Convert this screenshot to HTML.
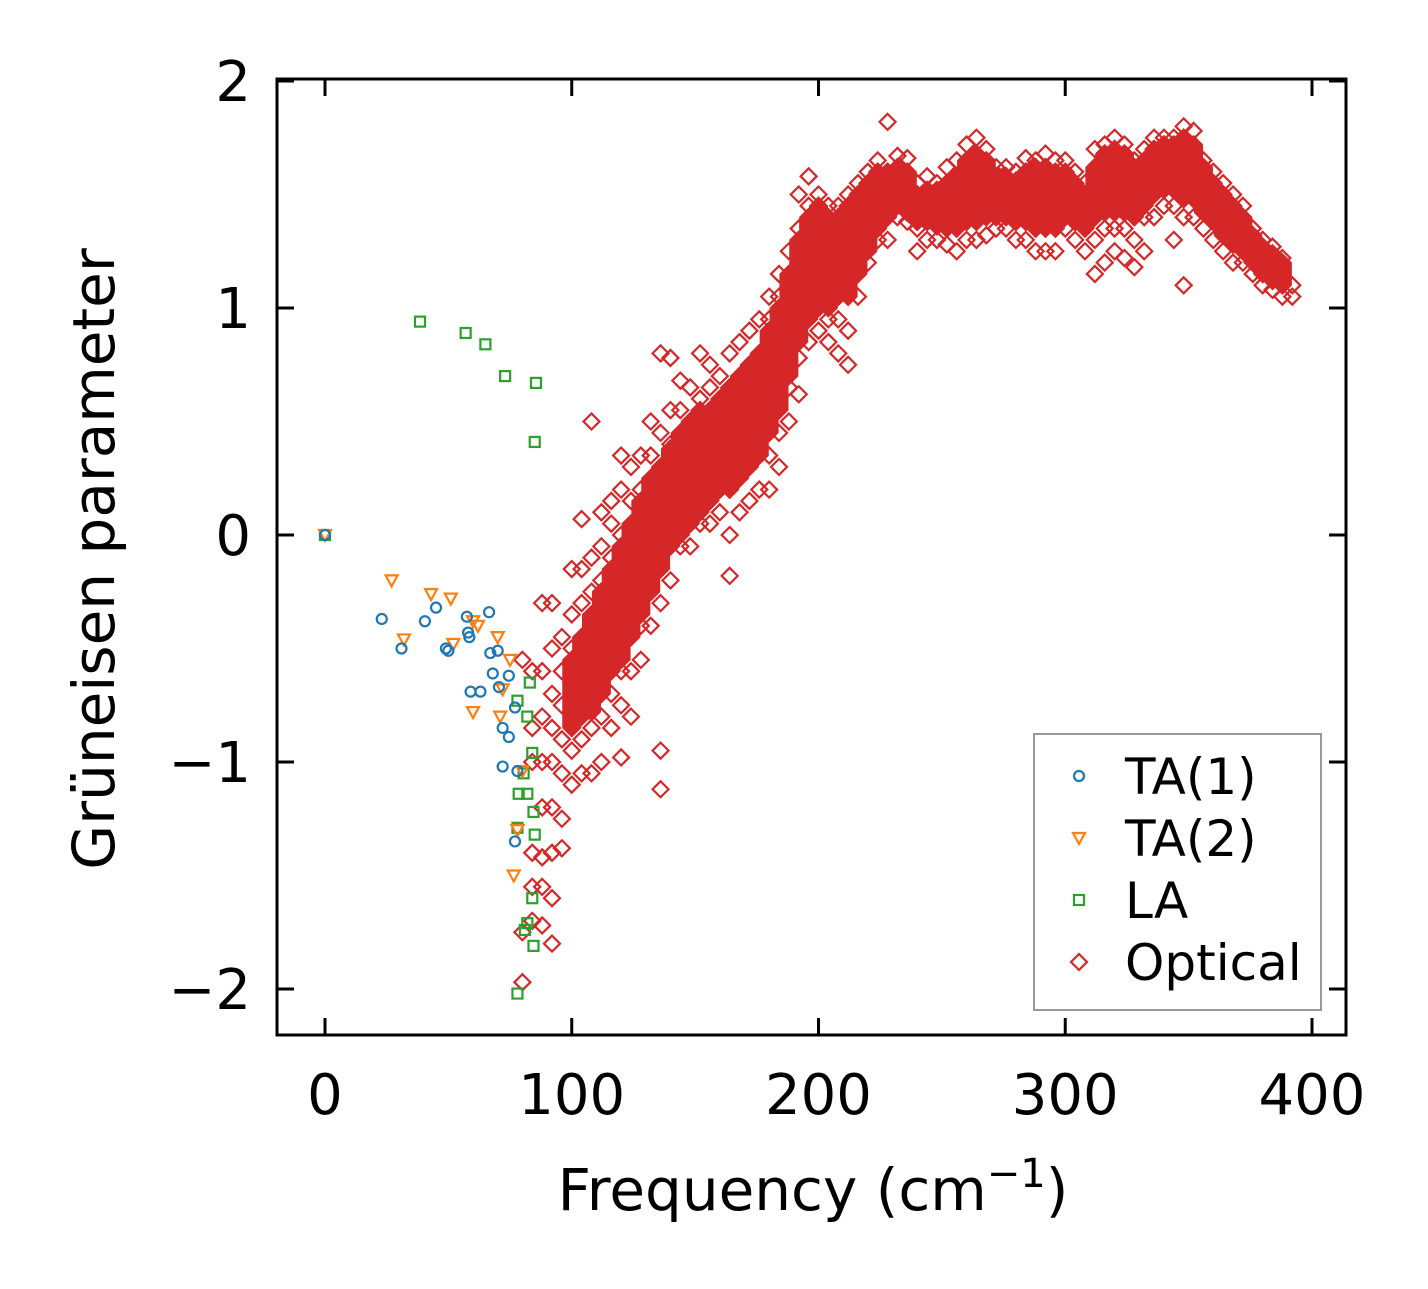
<!DOCTYPE html>
<html><head><meta charset="utf-8"><style>
html,body{margin:0;padding:0;background:#fff;}
svg text{font-family:"DejaVu Sans","Liberation Sans",sans-serif;}
</style></head><body>
<svg id="chart" width="1428" height="1284" viewBox="0 0 1428 1284" xmlns="http://www.w3.org/2000/svg">
<g id="marks"></g>
<g id="axes"></g>
</svg>
<script>
const xTicks=[0,100,200,300,400];
const yTicks=[-2,-1,0,1,2];
const yTickLabels=["\u22122","\u22121","0","1","2"];
const ta1Freq=[0,23,31,40.5,45,49,50,57.5,58,58.5,59,63,66.5,67,68,70,70.5,72,72,74.5,74.5,77,78,77];
const ta1Gamma=[0,-0.37,-0.5,-0.38,-0.32,-0.5,-0.51,-0.36,-0.43,-0.45,-0.69,-0.69,-0.34,-0.52,-0.61,-0.51,-0.67,-1.02,-0.85,-0.89,-0.62,-0.76,-1.04,-1.35];
const ta2Freq=[0,27,32,43,51,52,60,60,62,70,71,75,72,76.5,78,80];
const ta2Gamma=[0,-0.2,-0.46,-0.26,-0.28,-0.48,-0.38,-0.78,-0.4,-0.45,-0.8,-0.55,-0.68,-1.5,-1.3,-1.04];
const laFreq=[38.5,57,65,73,85.5,85,0,78,83,82,84,80.5,78.5,82,84.5,85,78,84,82,81,84.5,78];
const laGamma=[0.94,0.89,0.84,0.7,0.67,0.41,0,-0.73,-0.65,-0.8,-0.96,-1.05,-1.14,-1.14,-1.22,-1.32,-1.29,-1.6,-1.71,-1.74,-1.81,-2.02];
const opticalColumns=[
[80,-1.97,-1.75,-0.55],[84,-1.7,-1.55,-1.4,-1.0,-0.85,-0.6],[88,-1.72,-1.55,-1.42,-1.2,-1.0,-0.8,-0.6,-0.3],
[92,-1.8,-1.6,-1.4,-1.2,-1.0,-0.85,-0.7,-0.5,-0.3],[96,-1.38,-1.25,-1.05,-0.9,-0.75,-0.6,-0.45],
[100,-1.1,-0.95,-0.8,-0.65,-0.5,-0.35,-0.15],[104,-1.05,-0.9,-0.75,-0.6,-0.45,-0.3,-0.15,0.07],
[108,-1.05,-0.85,-0.7,-0.55,-0.4,-0.25,-0.1,0.5],[112,-1.0,-0.8,-0.65,-0.5,-0.35,-0.2,-0.05,0.1],
[116,-0.85,-0.7,-0.55,-0.4,-0.25,-0.1,0.05,0.15],[120,-0.98,-0.75,-0.6,-0.45,-0.3,-0.15,0.0,0.2,0.35],
[124,-0.8,-0.6,-0.45,-0.3,-0.15,0.0,0.15,0.3],[128,-0.55,-0.4,-0.25,-0.1,0.05,0.2,0.35],
[132,-0.4,-0.25,-0.1,0.05,0.2,0.35,0.5],[136,-1.12,-0.95,-0.3,-0.15,0.0,0.15,0.3,0.45,0.8],
[140,-0.2,-0.05,0.1,0.25,0.4,0.55,0.78],[144,-0.05,0.1,0.25,0.4,0.55,0.68],[148,-0.05,0.05,0.2,0.35,0.5,0.65],
[152,0.05,0.15,0.3,0.45,0.6,0.8],[156,0.05,0.2,0.35,0.5,0.65,0.75],[160,0.1,0.25,0.4,0.55,0.7],
[164,-0.18,0.0,0.2,0.35,0.5,0.65,0.8],[168,0.1,0.25,0.4,0.55,0.7,0.85],[172,0.15,0.3,0.45,0.6,0.75,0.9],
[176,0.2,0.35,0.5,0.65,0.8,0.95],[180,0.2,0.35,0.5,0.65,0.8,0.95,1.05],[184,0.3,0.45,0.6,0.75,0.9,1.05,1.15],
[188,0.5,0.65,0.8,0.95,1.1,1.25],[192,0.62,0.78,0.92,1.05,1.2,1.35,1.5],[196,0.85,0.95,1.05,1.15,1.25,1.35,1.45,1.58],
[200,0.9,1.0,1.1,1.2,1.3,1.4,1.5],[204,0.85,0.95,1.05,1.15,1.25,1.35,1.45],[208,0.8,0.95,1.05,1.15,1.25,1.35,1.45],
[212,0.75,0.9,1.05,1.15,1.25,1.35,1.5],[216,1.05,1.15,1.25,1.35,1.45,1.55],[220,1.2,1.3,1.4,1.5,1.6],
[224,1.3,1.4,1.5,1.6,1.65],[228,1.3,1.4,1.5,1.6,1.82],[232,1.4,1.5,1.6,1.67],[236,1.38,1.48,1.58,1.66],
[240,1.25,1.35,1.45,1.55],[244,1.3,1.4,1.5,1.58],[248,1.3,1.38,1.46,1.55],[252,1.28,1.37,1.46,1.55,1.62],
[256,1.25,1.35,1.45,1.55,1.65],[260,1.3,1.4,1.5,1.6,1.72],[264,1.3,1.4,1.5,1.6,1.75],[268,1.32,1.42,1.52,1.62,1.7],
[272,1.35,1.45,1.55,1.62],[276,1.35,1.45,1.55,1.62],[280,1.3,1.4,1.5,1.6],[284,1.3,1.4,1.5,1.6,1.66],
[288,1.25,1.35,1.45,1.55,1.65],[292,1.25,1.35,1.45,1.55,1.68],[296,1.25,1.35,1.45,1.55,1.65],
[300,1.35,1.45,1.55,1.65],[304,1.3,1.4,1.5,1.6],[308,1.25,1.35,1.45,1.55],[312,1.15,1.3,1.4,1.5,1.6,1.7],
[316,1.2,1.35,1.45,1.55,1.65,1.72],[320,1.25,1.35,1.45,1.55,1.65,1.75],[324,1.22,1.35,1.45,1.55,1.65,1.72],
[328,1.18,1.3,1.45,1.55,1.65],[332,1.25,1.4,1.5,1.6,1.7],[336,1.4,1.5,1.6,1.7,1.75],[340,1.45,1.55,1.65,1.75],
[344,1.3,1.45,1.55,1.65,1.75],[348,1.1,1.4,1.5,1.6,1.7,1.8],[352,1.4,1.5,1.6,1.7,1.78],[356,1.35,1.45,1.55,1.65],
[360,1.3,1.4,1.5,1.6],[364,1.25,1.35,1.45,1.55],[368,1.2,1.3,1.4,1.5],[372,1.2,1.3,1.4,1.45],
[376,1.15,1.25,1.35],[380,1.1,1.2,1.3],[384,1.08,1.18,1.27],[388,1.05,1.15,1.22],[392,1.05,1.1]
];
// dense core of optical band: [freq, low gamma, high gamma]
const opticalCore=[
[100,-0.85,-0.55],[104,-0.8,-0.45],[108,-0.78,-0.35],
[112,-0.7,-0.25],[116,-0.6,-0.15],[120,-0.55,-0.05],[124,-0.45,0.05],[128,-0.35,0.15],[132,-0.25,0.25],[136,-0.15,0.3],
[140,-0.05,0.38],[144,0.0,0.45],[148,0.05,0.5],[152,0.1,0.55],[156,0.15,0.55],[160,0.2,0.6],[164,0.2,0.65],
[168,0.25,0.7],[172,0.3,0.75],[176,0.35,0.8],[180,0.45,0.9],[184,0.55,1.0],[188,0.7,1.15],[192,0.85,1.3],
[196,0.95,1.4],[200,1.0,1.45],[204,1.0,1.4],[208,1.05,1.4],[212,1.05,1.45],[216,1.15,1.5],[220,1.25,1.55],
[224,1.35,1.6],[228,1.4,1.6],[232,1.45,1.62],[236,1.42,1.6],[240,1.38,1.5],[244,1.38,1.52],[248,1.36,1.52],
[252,1.35,1.55],[256,1.35,1.58],[260,1.38,1.65],[264,1.38,1.68],[268,1.4,1.65],[272,1.4,1.58],[276,1.4,1.58],
[280,1.38,1.56],[284,1.38,1.6],[288,1.35,1.62],[292,1.35,1.62],[296,1.35,1.6],[300,1.4,1.6],[304,1.38,1.55],
[308,1.35,1.5],[312,1.4,1.62],[316,1.42,1.68],[320,1.42,1.7],[324,1.42,1.68],[328,1.4,1.62],[332,1.45,1.65],
[336,1.5,1.7],[340,1.52,1.72],[344,1.52,1.72],[348,1.48,1.75],[352,1.48,1.72],[356,1.42,1.62],[360,1.38,1.55],
[364,1.32,1.5],[368,1.28,1.45],[372,1.25,1.4],[376,1.2,1.32],[380,1.15,1.27],[384,1.12,1.24],[388,1.1,1.2]
];
const NS="http://www.w3.org/2000/svg";
const L=277,R=1346,T=79,B=1035;
function xs(v){return 325+v*2.4675;}
function ys(v){return 535-v*227;}
function mk(tag,attrs,parent){const e=document.createElementNS(NS,tag);for(const k in attrs)e.setAttribute(k,attrs[k]);parent.appendChild(e);return e;}
const marks=document.getElementById('marks');
const axes=document.getElementById('axes');
function circle(x,y,p){return mk('circle',{cx:x,cy:y,r:5,fill:'none',stroke:'#1f77b4','stroke-width':2.2},p);}
function tri(x,y,p){return mk('path',{d:`M${x-6},${y-5}L${x+6},${y-5}L${x},${y+6}Z`,fill:'none',stroke:'#ff7f0e','stroke-width':2.2},p);}
function sq(x,y,p){return mk('rect',{x:x-5,y:y-5,width:10,height:10,fill:'none',stroke:'#2ca02c','stroke-width':2.2},p);}
function dia(x,y,p){return mk('path',{d:`M${x},${y-8}L${x+8},${y}L${x},${y+8}L${x-8},${y}Z`,fill:'none',stroke:'#d62728','stroke-width':2.2},p);}
const gO=mk('g',{},marks);


opticalCore.forEach(c=>{const x=xs(c[0]),yl=ys(c[1]),yh=ys(c[2]);
const e=mk('path',{d:`M${x},${yh-9}L${x+9},${yh}L${x+9},${yl}L${x},${yl+9}L${x-9},${yl}L${x-9},${yh}Z`,fill:'#d62728',stroke:'#d62728','stroke-width':1},gO);

});
opticalColumns.forEach(c=>{for(let i=1;i<c.length;i++){const e=dia(xs(c[0]),ys(c[i]),gO);

}});
const gL=mk('g',{},marks);


laFreq.forEach((f,i)=>{const e=sq(xs(f),ys(laGamma[i]),gL);

});
const g2=mk('g',{},marks);


ta2Freq.forEach((f,i)=>{const e=tri(xs(f),ys(ta2Gamma[i]),g2);

});
const g1=mk('g',{},marks);


ta1Freq.forEach((f,i)=>{const e=circle(xs(f),ys(ta1Gamma[i]),g1);

});
const fr=mk('rect',{x:L,y:T,width:R-L,height:B-T,fill:'none',stroke:'#000','stroke-width':3},axes);


xTicks.forEach(v=>{const x=xs(v);
mk('line',{x1:x,y1:B,x2:x,y2:B-17,stroke:'#000','stroke-width':3},axes);
mk('line',{x1:x,y1:T,x2:x,y2:T+17,stroke:'#000','stroke-width':3},axes);
const t=mk('text',{x:x,y:1114,'font-size':56,'text-anchor':'middle'},axes);t.textContent=String(v);

});
yTicks.forEach((v,i)=>{const y=ys(v);
mk('line',{x1:L,y1:y,x2:L+17,y2:y,stroke:'#000','stroke-width':3},axes);
mk('line',{x1:R,y1:y,x2:R-17,y2:y,stroke:'#000','stroke-width':3},axes);
const t=mk('text',{x:251,y:y+20,'font-size':56,'text-anchor':'end'},axes);t.textContent=yTickLabels[i];

});
const xl=mk('text',{x:813,y:1210,'font-size':58,'text-anchor':'middle'},axes);
xl.innerHTML='Frequency (cm<tspan dy="-23" font-size="40">\u22121</tspan><tspan dy="23">)</tspan>';


const yl=mk('text',{x:0,y:0,'font-size':58,'text-anchor':'middle',transform:'translate(114,559) rotate(-90)'},axes);
yl.textContent='Grüneisen parameter';


const lg=mk('g',{},axes);


mk('rect',{x:1034,y:734,width:287,height:276,fill:'#fff',stroke:'#999','stroke-width':2},lg);
const entries=[['TA(1)',circle],['TA(2)',tri],['LA',sq],['Optical',dia]];
entries.forEach((en,i)=>{const y=776+i*62;en[1](1079,y,lg);
const t=mk('text',{x:1125,y:y+18,'font-size':50},lg);t.textContent=en[0];

});
</script>
</body></html>
